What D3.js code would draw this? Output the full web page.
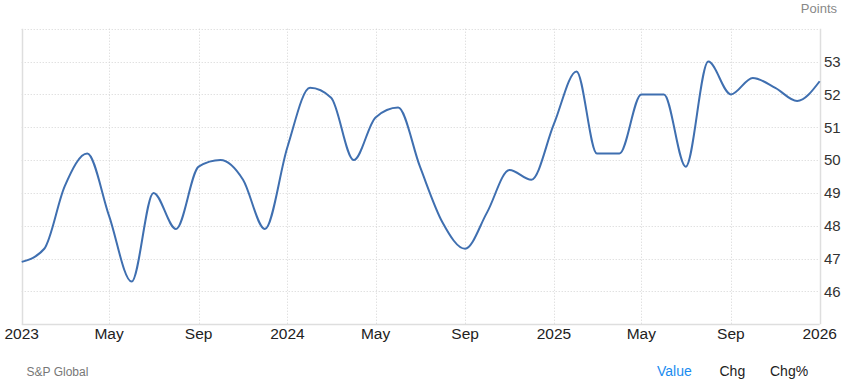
<!DOCTYPE html>
<html>
<head>
<meta charset="utf-8">
<script src="https://cdn.jsdelivr.net/npm/d3@7"></script>
<style>
  body { margin: 0; background: #fff; }
  svg { font-family: "Liberation Sans", Arial, Helvetica, sans-serif; }
</style>
</head>
<body>
<svg id="chart" width="844" height="389"></svg>
<script>
// Monthly values, Jan 2023 .. Jan 2026
var months = d3.timeMonths(new Date(2023, 0, 1), new Date(2026, 0, 2));
var values = [
  46.9, 47.3, 49.2, 50.2, 48.3, 46.3, 49.0, 47.9, 49.8, 50.0, 49.4, 47.9,
  50.4, 52.2, 51.9, 50.0, 51.3, 51.6, 49.8, 48.1, 47.3, 48.4, 49.7, 49.4,
  51.1, 52.7, 50.2, 50.2, 52.0, 52.0, 49.8, 53.0, 52.0, 52.5, 52.2, 51.8,
  52.4
];
var yTicks = [46, 47, 48, 49, 50, 51, 52, 53];
var xTicks = [new Date(2023,0,1), new Date(2023,4,1), new Date(2023,8,1),
              new Date(2024,0,1), new Date(2024,4,1), new Date(2024,8,1),
              new Date(2025,0,1), new Date(2025,4,1), new Date(2025,8,1),
              new Date(2026,0,1)];
var xLabels = ["2023", "May", "Sep", "2024", "May", "Sep", "2025", "May", "Sep", "2026"];
var legend = ["Value", "Chg", "Chg%"];

var data = months.map(function(m, i) { return {date: m, val: values[i]}; });

var plotL = 21.7, plotR = 819.7, plotT = 28.7, plotB = 324.3;

var svg = d3.select("#chart");

var x = d3.scaleTime()
  .domain([new Date(2023,0,1), new Date(2026,0,1)])
  .range([plotL, plotR]);
var y = d3.scaleLinear()
  .domain([45, 54])
  .range([plotB, plotT]);

// horizontal grid (dotted)
svg.append("g")
  .selectAll("line")
  .data(yTicks.concat([54]))
  .enter().append("line")
  .attr("x1", plotL).attr("x2", plotR)
  .attr("y1", function(d) { return Math.round(y(d)) + 0.5; })
  .attr("y2", function(d) { return Math.round(y(d)) + 0.5; })
  .attr("stroke", "#d4d4d4")
  .attr("stroke-dasharray", "1,2");

// vertical grid (dotted)
svg.append("g")
  .selectAll("line")
  .data(xTicks.slice(1, -1))
  .enter().append("line")
  .attr("x1", function(d) { return Math.round(x(d)) + 0.5; })
  .attr("x2", function(d) { return Math.round(x(d)) + 0.5; })
  .attr("y1", plotT).attr("y2", plotB)
  .attr("stroke", "#d4d4d4")
  .attr("stroke-dasharray", "1,2");

// frame: left, right, bottom solid
svg.append("line")
  .attr("x1", Math.round(plotL) + 0.5).attr("x2", Math.round(plotL) + 0.5)
  .attr("y1", plotT).attr("y2", plotB)
  .attr("stroke", "#dedede").attr("stroke-width", 1.5);
svg.append("line")
  .attr("x1", Math.round(plotR) + 0.5).attr("x2", Math.round(plotR) + 0.5)
  .attr("y1", plotT).attr("y2", plotB)
  .attr("stroke", "#dedede").attr("stroke-width", 1.5);
svg.append("line")
  .attr("x1", plotL).attr("x2", plotR)
  .attr("y1", Math.round(plotB) + 0.5).attr("y2", Math.round(plotB) + 0.5)
  .attr("stroke", "#dedede").attr("stroke-width", 1.5);

// y labels on right
svg.append("g")
  .selectAll("text")
  .data(yTicks)
  .enter().append("text")
  .attr("x", 824)
  .attr("y", function(d) { return y(d) + 5.4; })
  .attr("font-size", "15px")
  .attr("fill", "#333")
  .text(function(d) { return d; });

// x labels
svg.append("g")
  .selectAll("text")
  .data(xTicks)
  .enter().append("text")
  .attr("x", function(d) { return x(d); })
  .attr("y", 338.5)
  .attr("text-anchor", "middle")
  .attr("font-size", "15.5px")
  .attr("fill", "#222")
  .text(function(d, i) { return xLabels[i]; });

// line
var line = d3.line()
  .x(function(d) { return x(d.date); })
  .y(function(d) { return y(d.val); })
  .curve(d3.curveMonotoneX);

svg.append("path")
  .datum(data)
  .attr("d", line)
  .attr("fill", "none")
  .attr("stroke", "#3f6fb0")
  .attr("stroke-width", 2);

// units
svg.append("text")
  .attr("x", 837).attr("y", 13)
  .attr("text-anchor", "end")
  .attr("font-size", "13px")
  .attr("fill", "#888")
  .text("Points");

// source
svg.append("text")
  .attr("x", 26.5).attr("y", 375.5)
  .attr("font-size", "12px")
  .attr("fill", "#777")
  .text("S&P Global");

// legend buttons
var legX = [657, 719.5, 770];
svg.append("g")
  .selectAll("text")
  .data(legend)
  .enter().append("text")
  .attr("x", function(d, i) { return legX[i]; })
  .attr("y", 375.5)
  .attr("font-size", "14px")
  .attr("fill", function(d, i) { return i == 0 ? "#1a8cf0" : "#222"; })
  .text(function(d) { return d; });
</script>
</body>
</html>
